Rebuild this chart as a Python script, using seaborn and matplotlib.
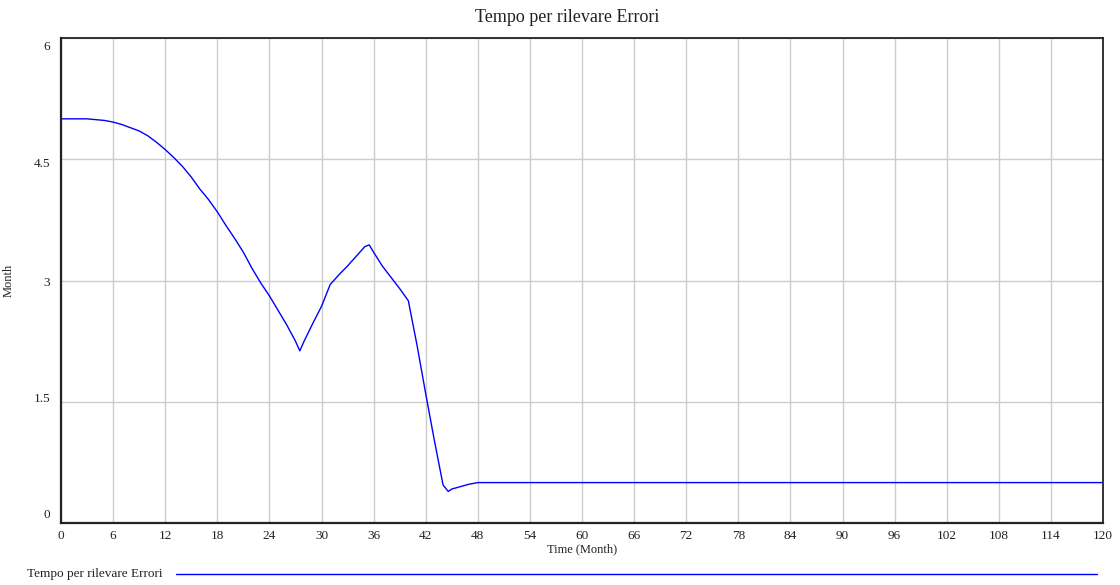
import matplotlib
matplotlib.use("Agg")
import matplotlib.pyplot as plt
from matplotlib.lines import Line2D
import matplotlib.transforms as mtransforms
import seaborn as sns
import pandas as pd

series_name = "Tempo per rilevare Errori"
time_month = [0, 1, 2, 3, 4, 5, 6, 7, 8, 9, 10, 11, 12, 13, 14, 15, 16, 17, 18, 19,
              20, 21, 22, 23, 24, 25, 26, 27, 27.5, 28, 29, 30, 31, 32, 33, 34, 35, 35.5,
              36, 37, 38, 39, 40, 41, 42, 43, 44, 44.6, 45, 46, 47, 48, 120]
values = [5.0, 5.0, 5.0, 5.0, 4.99, 4.98, 4.96, 4.93, 4.89, 4.85, 4.79, 4.71, 4.62, 4.52,
          4.41, 4.28, 4.13, 4.00, 3.85, 3.68, 3.52, 3.35, 3.15, 2.97, 2.81, 2.63, 2.45,
          2.25, 2.13, 2.25, 2.47, 2.68, 2.95, 3.07, 3.18, 3.30, 3.42, 3.44, 3.35, 3.18,
          3.04, 2.90, 2.75, 2.20, 1.60, 1.02, 0.47, 0.39, 0.42, 0.45, 0.48, 0.50, 0.50]
x_ticks = list(range(0, 121, 6))
y_ticks = [0, 1.5, 3, 4.5, 6]
y_tick_labels = ["0", "1.5", "3", "4.5", "6"]
# Vensim-style vertical nudges of the y tick labels (pixels, positive = down)
y_label_nudge = [-8, -3, 2, 5, 9]

df = pd.DataFrame({"Time": time_month, "Value": values})

sns.set_theme(style="white")
plt.rcParams["font.family"] = ["Liberation Serif", "DejaVu Serif"]

fig = plt.figure(figsize=(11.2, 5.85), dpi=100)
ax = fig.add_axes([61 / 1120, 1 - 523 / 585, (1103 - 61) / 1120, (523 - 38) / 585])

sns.lineplot(data=df, x="Time", y="Value", ax=ax, color="#0000ff", linewidth=1.0)

ax.set_xlim(0, 120)
ax.set_ylim(0, 6)
ax.set_xticks(x_ticks)
ax.set_xticklabels([str(t) for t in x_ticks], fontsize=9.5)
ax.set_yticks(y_ticks)
ax.set_yticklabels([])
ax.tick_params(axis="both", length=0, pad=5, colors="#222222")
ax.grid(True, color="#cccccc", linewidth=1.0)
for side in ["left", "bottom"]:
    ax.spines[side].set_color("#222222")
    ax.spines[side].set_linewidth(1.6)
for side in ["top", "right"]:
    ax.spines[side].set_color("#222222")
    ax.spines[side].set_linewidth(1.3)

ytrans = ax.get_yaxis_transform()
for val, lab, nudge in zip(y_ticks, y_tick_labels, y_label_nudge):
    tr = ytrans + mtransforms.ScaledTranslation(0, -nudge / 100, fig.dpi_scale_trans)
    ax.text(-11 / 1042, val, lab, transform=tr, ha="right", va="center",
            fontsize=9.5, color="#222222")

ax.set_xlabel("Time (Month)", fontsize=9, labelpad=1, color="#222222")
ax.set_ylabel("Month", fontsize=9, color="#222222")
ax.yaxis.set_label_coords(-46 / 1042, 0.5)

fig.text(567 / 1120, 1 - 17 / 585, series_name, fontsize=13, va="center", ha="center",
         color="#222222")

fig.text(27 / 1120, 1 - 574 / 585, series_name, fontsize=9.5, va="center", ha="left",
         color="#222222")
fig.add_artist(Line2D([176 / 1120, 1097 / 1120], [1 - 574 / 585, 1 - 574 / 585],
                      color="#0000ff", linewidth=1.0, transform=fig.transFigure))

fig.savefig("out.png", dpi=100, facecolor="white")
